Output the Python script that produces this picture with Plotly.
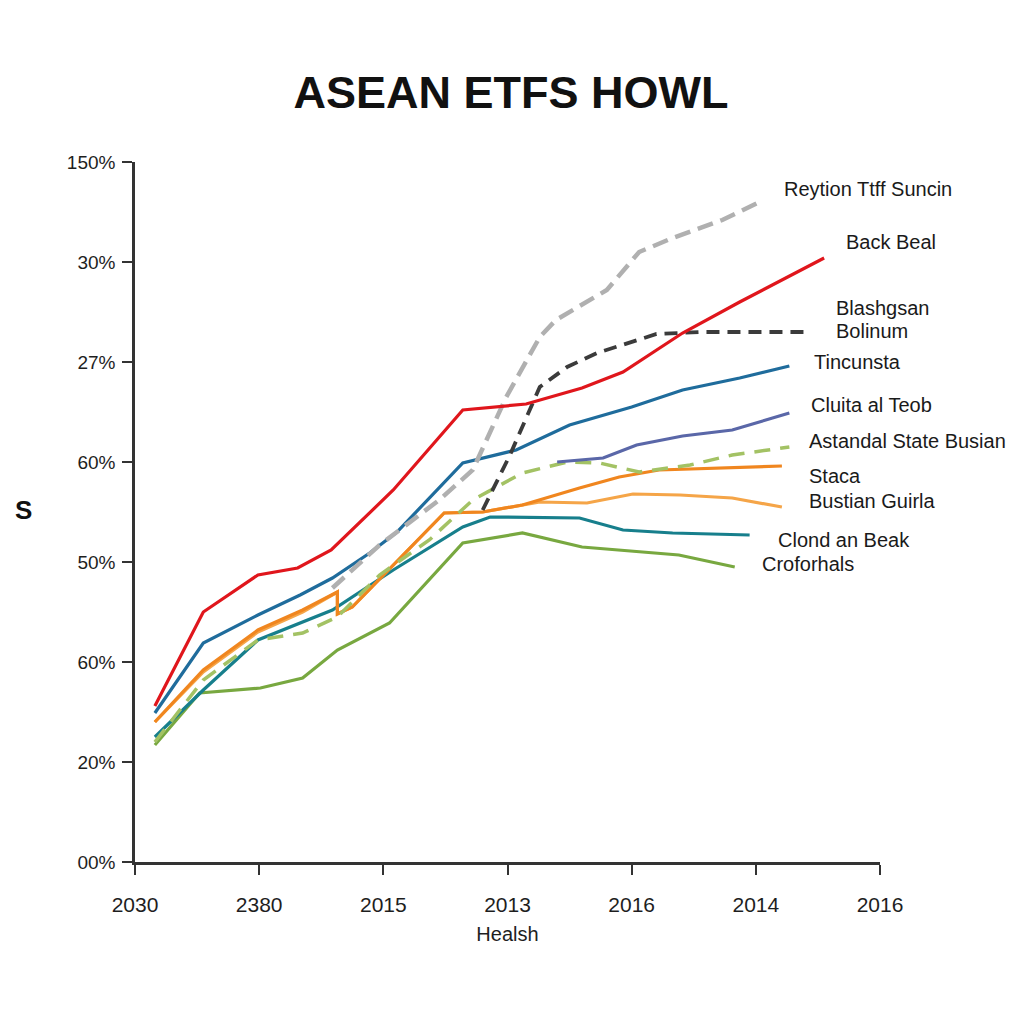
import plotly.graph_objects as go

# ---- tick labels (as printed on the chart) ----
x_ticks = [0, 1, 2, 3, 4, 5, 6]
x_tick_labels = ["2030", "2380", "2015", "2013", "2016", "2014", "2016"]
y_ticks = [0, 1, 2, 3, 4, 5, 6, 7]
y_tick_labels = ["00%", "20%", "60%", "50%", "60%", "27%", "30%", "150%"]

# ---- series (axis units) ----
grey_x = [1.59, 1.97, 2.45, 2.72, 2.99, 3.26, 3.39, 3.80, 4.06, 4.33, 4.73, 5.03]
grey_y = [2.74, 3.17, 3.62, 3.92, 4.65, 5.25, 5.42, 5.72, 6.10, 6.24, 6.42, 6.60]

red_x = [0.16, 0.55, 0.99, 1.31, 1.58, 2.08, 2.64, 3.15, 3.60, 3.93, 4.41, 4.87, 5.55]
red_y = [1.56, 2.50, 2.87, 2.94, 3.12, 3.72, 4.52, 4.58, 4.74, 4.90, 5.29, 5.60, 6.04]

dark_x = [2.80, 3.02, 3.26, 3.48, 3.72, 3.96, 4.20, 4.55, 5.43]
dark_y = [3.52, 4.07, 4.75, 4.95, 5.09, 5.19, 5.28, 5.30, 5.30]

blue_x = [0.16, 0.55, 0.99, 1.33, 1.59, 1.89, 2.11, 2.64, 3.07, 3.50, 4.00, 4.41, 4.87, 5.27]
blue_y = [1.49, 2.19, 2.47, 2.67, 2.84, 3.09, 3.30, 3.99, 4.12, 4.37, 4.55, 4.72, 4.84, 4.96]

purple_x = [3.40, 3.77, 4.04, 4.41, 4.81, 5.27]
purple_y = [4.00, 4.04, 4.17, 4.26, 4.32, 4.49]

gdash_x = [0.16, 0.55, 0.99, 1.35, 1.63, 1.97, 2.37, 2.72, 3.12, 3.48, 3.74, 4.06, 4.47, 4.81, 5.27]
gdash_y = [1.20, 1.82, 2.22, 2.29, 2.45, 2.87, 3.22, 3.62, 3.89, 4.00, 3.99, 3.90, 3.97, 4.07, 4.15]

staca_x = [0.16, 0.55, 0.99, 1.35, 1.63, 1.63, 1.75, 2.49, 2.80, 3.12, 3.58, 3.90, 4.22, 5.21]
staca_y = [1.40, 1.92, 2.32, 2.52, 2.70, 2.48, 2.55, 3.49, 3.50, 3.57, 3.74, 3.85, 3.92, 3.96]

bustian_x = [0.16, 0.55, 0.99, 1.35, 1.63, 1.63, 1.75, 2.49, 2.80, 3.12, 3.26, 3.64, 4.01, 4.39, 4.81, 5.21]
bustian_y = [1.40, 1.90, 2.30, 2.50, 2.70, 2.48, 2.55, 3.49, 3.50, 3.57, 3.60, 3.59, 3.68, 3.67, 3.64, 3.55]

teal_x = [0.16, 0.55, 0.99, 1.59, 2.08, 2.64, 2.86, 3.58, 3.93, 4.33, 4.95]
teal_y = [1.25, 1.72, 2.22, 2.52, 2.92, 3.35, 3.45, 3.44, 3.32, 3.29, 3.27]

green_x = [0.16, 0.52, 1.01, 1.35, 1.63, 2.05, 2.64, 3.12, 3.60, 4.38, 4.83]
green_y = [1.17, 1.69, 1.74, 1.84, 2.12, 2.39, 3.19, 3.29, 3.15, 3.07, 2.95]

# ---- end labels ----
label_text = ["Reytion Ttff Suncin", "Back Beal", "Blashgsan", "Bolinum", "Tincunsta",
              "Cluita al Teob", "Astandal State Busian", "Staca", "Bustian Guirla",
              "Clond an Beak", "Croforhals"]
label_x = [5.21, 5.71, 5.63, 5.63, 5.45, 5.43, 5.41, 5.41, 5.41, 5.16, 5.03]
label_y = [6.73, 6.20, 5.54, 5.31, 5.00, 4.57, 4.21, 3.86, 3.61, 3.22, 2.98]

series = [
    (green_x, green_y, "#78a840", "solid", 3.2),
    (teal_x, teal_y, "#177f8c", "solid", 3.2),
    (bustian_x, bustian_y, "#f5a548", "solid", 3.2),
    (staca_x, staca_y, "#f0861f", "solid", 3.2),
    (gdash_x, gdash_y, "#a3c264", "16px,10px", 3.5),
    (purple_x, purple_y, "#5a67a8", "solid", 3.2),
    (blue_x, blue_y, "#1f6c9c", "solid", 3.2),
    (grey_x, grey_y, "#b0b0b0", "16px,8px", 4.5),
    (dark_x, dark_y, "#3b3b3b", "13px,8px", 3.8),
    (red_x, red_y, "#e0161c", "solid", 3.2),
]

FONT = "Liberation Sans, Arial, sans-serif"

fig = go.Figure()
for xs, ys, col, dash, w in series:
    fig.add_trace(go.Scatter(x=xs, y=ys, mode="lines",
                             line=dict(color=col, width=w, dash=dash),
                             showlegend=False, hoverinfo="skip"))

for t, lx, ly in zip(label_text, label_x, label_y):
    fig.add_annotation(x=lx, y=ly, xref="x", yref="y", text=t, showarrow=False,
                       xanchor="left", yanchor="middle",
                       font=dict(family=FONT, size=20, color="#1a1a1a"))

# plot area in figure pixels (page adds an 8px offset)
L, R, T, B = 127, 152, 154, 170
PW, PH = 1024 - L - R, 1024 - T - B

# y-axis title "S"
fig.add_annotation(x=(15 - L) / PW, y=(1024 - B - 502) / PH, xref="paper", yref="paper",
                   text="<b>S</b>", showarrow=False, xanchor="center", yanchor="middle",
                   font=dict(family=FONT, size=26, color="#111"))

fig.update_layout(
    width=1024, height=1024, autosize=False,
    margin=dict(l=L, r=R, t=T, b=B),
    paper_bgcolor="white", plot_bgcolor="white",
    title=dict(text="<b>ASEAN ETFS HOWL</b>", xref="paper", x=(503 - L) / PW, xanchor="center",
               yref="container", y=1 - 84 / 1024, yanchor="middle",
               font=dict(family=FONT, size=45, color="#111")),
    xaxis=dict(range=[0, 6], tickvals=x_ticks, ticktext=x_tick_labels,
               showline=True, linecolor="#333", linewidth=2.5, ticks="outside", ticklen=10,
               tickwidth=2, tickcolor="#333", showgrid=False, zeroline=False,
               ticklabelstandoff=12,
               tickfont=dict(family=FONT, size=21, color="#1e1e1e"),
               title=dict(text="Healsh", standoff=13,
                          font=dict(family=FONT, size=20, color="#1e1e1e"))),
    yaxis=dict(range=[0, 7], tickvals=y_ticks, ticktext=y_tick_labels,
               showline=True, linecolor="#333", linewidth=2.5, ticks="outside", ticklen=10,
               tickwidth=2, tickcolor="#333", showgrid=False, zeroline=False,
               ticklabelstandoff=3,
               tickfont=dict(family=FONT, size=19, color="#1e1e1e")),
)

fig.write_html("out.html")
